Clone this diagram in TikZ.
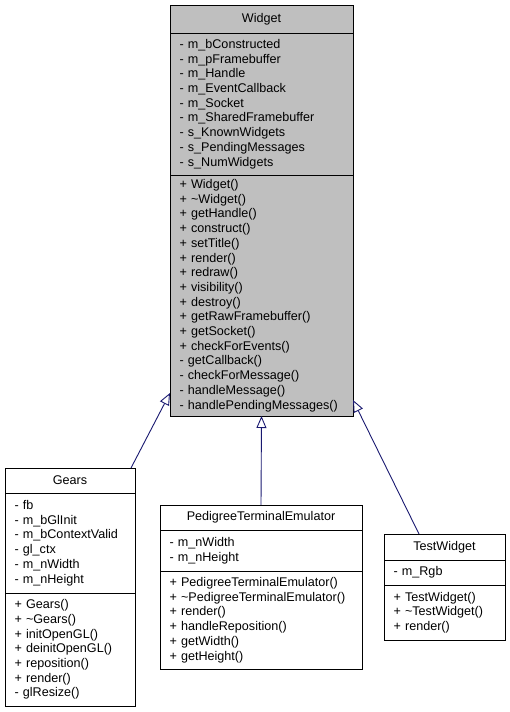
\documentclass[tikz,border=0pt]{standalone}
\usepackage{fontspec}
\setmainfont{Liberation Sans}
\usepackage{xcolor}
\usetikzlibrary{arrows.meta}

\definecolor{edgeblue}{HTML}{191970}
\definecolor{basegray}{HTML}{BFBFBF}

\begin{document}
\begin{tikzpicture}[x=1pt, y=-1pt,
        box/.style={draw=black, line width=0.9pt, fill=white, inner sep=0pt, outer sep=0pt,
            anchor=north west, font=\fontsize{12.6}{14.7}\selectfont},
        title/.style 2 args={box, minimum width=#1, minimum height=#2, align=center},
        members/.style 2 args={box, minimum width=#1, text width=#1-19pt, minimum height=#2,
            inner xsep=9.5pt, align=left},
        inherit/.style={draw=edgeblue, line width=0.9pt, {Triangle[open, length=12pt, width=10pt]}-}]
        \useasboundingbox (0,0) rectangle (509,712);

        % base class
        \node[title={183pt}{28pt}, fill=basegray] (widget) at (170,5) {Widget};
        \node[members={183pt}{142pt}, fill=basegray] (widgetattr) at (widget.south west)
            {- m\_bConstructed\\- m\_pFramebuffer\\- m\_Handle\\- m\_EventCallback\\- m\_Socket\\
             - m\_SharedFramebuffer\\- s\_KnownWidgets\\- s\_PendingMessages\\- s\_NumWidgets};
        \node[members={183pt}{241pt}, fill=basegray] (widgetops) at (widgetattr.south west)
            {+ Widget()\\+ \textasciitilde Widget()\\+ getHandle()\\+ construct()\\+ setTitle()\\
             + render()\\+ redraw()\\+ visibility()\\+ destroy()\\+ getRawFramebuffer()\\
             + getSocket()\\+ checkForEvents()\\- getCallback()\\- checkForMessage()\\
             - handleMessage()\\- handlePendingMessages()};

        \node[title={130pt}{25pt}] (gears) at (5,468) {Gears};
        \node[members={130pt}{100pt}] (gearsattr) at (gears.south west)
            {- fb\\- m\_bGlInit\\- m\_bContextValid\\- gl\_ctx\\- m\_nWidth\\- m\_nHeight};
        \node[members={130pt}{113pt}] (gearsops) at (gearsattr.south west)
            {+ Gears()\\+ \textasciitilde Gears()\\+ initOpenGL()\\+ deinitOpenGL()\\
             + reposition()\\+ render()\\- glResize()};

        \node[title={202pt}{25pt}] (pedigree) at (160,505) {PedigreeTerminalEmulator};
        \node[members={202pt}{41pt}] (pedigreeattr) at (pedigree.south west)
            {- m\_nWidth\\- m\_nHeight};
        \node[members={202pt}{98pt}] (pedigreeops) at (pedigreeattr.south west)
            {+ PedigreeTerminalEmulator()\\+ \textasciitilde PedigreeTerminalEmulator()\\
             + render()\\+ handleReposition()\\+ getWidth()\\+ getHeight()};

        \node[title={121pt}{26pt}] (testwidget) at (384,534) {TestWidget};
        \node[members={121pt}{25pt}] (testwidgetattr) at (testwidget.south west) {- m\_Rgb};
        \node[members={121pt}{55pt}] (testwidgetops) at (testwidgetattr.south west)
            {+ TestWidget()\\+ \textasciitilde TestWidget()\\+ render()};

        \draw[inherit] ([yshift=23pt]widgetops.south west) -- ([xshift=-4pt]gears.north east);
        \draw[inherit] (widgetops.south) -- (pedigree.north);
        \draw[inherit] ([yshift=16pt]widgetops.south east) -- ([xshift=35pt]testwidget.north west);
    \end{tikzpicture}
\end{document}
